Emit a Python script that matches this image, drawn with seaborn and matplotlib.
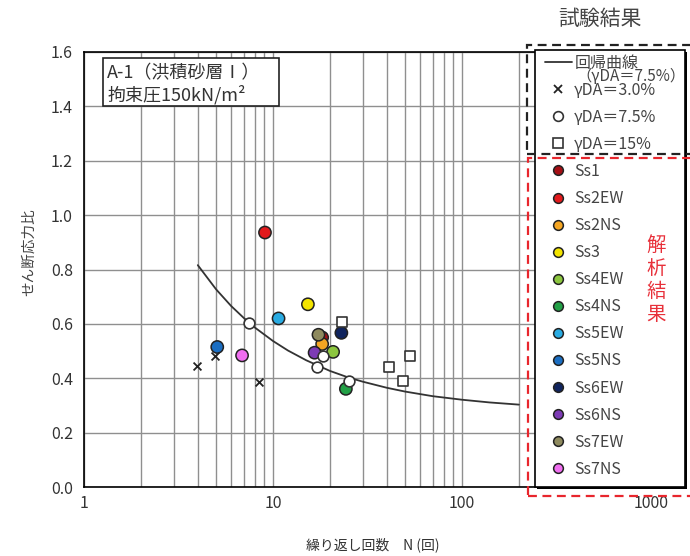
import matplotlib
matplotlib.use("Agg")
import matplotlib.pyplot as plt
import matplotlib.ticker as mticker
import seaborn as sns
import pandas as pd
from matplotlib.lines import Line2D
from matplotlib.patches import Rectangle

sns.set_theme(style="whitegrid")
plt.rcParams['font.family'] = ['Noto Sans CJK JP', 'DejaVu Sans']

W, H = 690, 556

# 試験結果 (N, せん断応力比)
test_30_n = [3.95, 4.95, 8.43]
test_30_r = [0.446, 0.483, 0.387]
test_75_n = [7.5, 17.0, 18.3, 25.3]
test_75_r = [0.605, 0.442, 0.483, 0.390]
test_15_n = [23.1, 41.2, 48.6, 53.2]
test_15_r = [0.608, 0.442, 0.391, 0.483]

# 回帰曲線 (γDA=7.5%)
curve_n = [4, 5, 6, 7, 8, 10, 12, 15, 20, 25, 30, 40, 50, 70, 100, 140, 200]
curve_r = [0.816, 0.727, 0.666, 0.622, 0.587, 0.537, 0.502, 0.466, 0.427,
           0.403, 0.387, 0.365, 0.351, 0.334, 0.321, 0.311, 0.303]

# 解析結果
cases = ['Ss1', 'Ss2EW', 'Ss2NS', 'Ss3', 'Ss4EW', 'Ss4NS',
         'Ss5EW', 'Ss5NS', 'Ss6EW', 'Ss6NS', 'Ss7EW', 'Ss7NS']
case_n = [18.2, 9.07, 18.2, 15.3, 20.8, 24.3, 10.7, 5.07, 23.0, 16.6, 17.4, 6.86]
case_r = [0.550, 0.936, 0.526, 0.672, 0.497, 0.361, 0.620, 0.515, 0.567, 0.494, 0.560, 0.484]
case_colors = ['#a50f15', '#e31a1c', '#f5a623', '#f3e400', '#8cc63f', '#22a046',
               '#29abe2', '#1b6ec2', '#10245e', '#7d3bb5', '#8e8a5e', '#f06ef0']

y_ticks = [0.0, 0.2, 0.4, 0.6, 0.8, 1.0, 1.2, 1.4, 1.6]
x_ticks = [1, 10, 100, 1000]


def px(x, y):
    return x / W, 1 - y / H


def box(x0, y0, x1, y1, **kw):
    fx, fy = px(x0, y1)
    return Rectangle((fx, fy), (x1 - x0) / W, (y1 - y0) / H,
                     transform=fig.transFigure, clip_on=False, **kw)


fig = plt.figure(figsize=(6.9, 5.56), dpi=100)
ax = fig.add_axes([84 / W, 1 - 487 / H, (651 - 84) / W, (487 - 52) / H])

grid_c = '#8f8f8f'
ax.set_xscale('log')
ax.set_xlim(1, 1000)
ax.set_ylim(0, 1.6)
ax.grid(False)
ax.grid(which='both', axis='x', color=grid_c, lw=1.0)
ax.grid(which='major', axis='y', color=grid_c, lw=1.0)

sns.lineplot(x=curve_n, y=curve_r, ax=ax, color='#333333', lw=1.3,
             sort=False, zorder=2)

sns.scatterplot(x=test_30_n, y=test_30_r, ax=ax, marker='x', color='#222222',
                s=32, linewidth=1.3, zorder=4)

df = pd.DataFrame({'case': cases, 'N': case_n, 'ratio': case_r})
sns.scatterplot(data=df, x='N', y='ratio', hue='case',
                palette=dict(zip(cases, case_colors)), s=78,
                edgecolor='#222222', linewidth=1.1, legend=False, ax=ax, zorder=3)

sns.scatterplot(x=test_75_n, y=test_75_r, ax=ax, marker='o', color='white',
                edgecolor='#333333', s=60, linewidth=1.2, zorder=4)
sns.scatterplot(x=test_15_n, y=test_15_r, ax=ax, marker='s', color='white',
                edgecolor='#333333', s=60, linewidth=1.2, zorder=4)

ax.set_xticks(x_ticks, [str(v) for v in x_ticks])
ax.xaxis.set_minor_formatter(mticker.NullFormatter())
ax.set_yticks(y_ticks, [f'{v:.1f}' for v in y_ticks])
ax.tick_params(axis='both', which='both', length=0, labelsize=11.5,
               labelcolor='#333333')
ax.tick_params(axis='y', pad=8)
ax.tick_params(axis='x', pad=6)
for sp in ax.spines.values():
    sp.set_color('black')
    sp.set_linewidth(1.2)

ax.set_xlabel('繰り返し回数　N (回)', fontsize=10, color='#333333')
ax.xaxis.set_label_coords(0.51, -0.115)
ax.set_ylabel('せん断応力比', fontsize=10.5, color='#444444')
ax.yaxis.set_label_coords(-0.085, 0.54)

# condition box
fig.add_artist(box(103, 58, 279, 106, facecolor='white', edgecolor='#222222',
                   lw=1.2, zorder=3))
fig.text(*px(107, 73), 'A-1（洪積砂層Ⅰ）', fontsize=13, color='#333333',
         va='center', zorder=4)
fig.text(*px(107, 95), '拘束圧150kN/m²', fontsize=13, color='#333333',
         va='center', zorder=4)

# legend panel
fig.add_artist(box(537, 52, 687, 489, facecolor='black', edgecolor='black',
                   lw=0, zorder=3))
fig.add_artist(box(535, 50, 685, 487, facecolor='white', edgecolor='black',
                   lw=1.2, zorder=3.5))

handles = [
    Line2D([], [], color='#333333', lw=1.3),
    Line2D([], [], marker='x', ls='none', color='#222222', markersize=6, mew=1.3),
    Line2D([], [], marker='o', ls='none', mfc='white', mec='#333333',
           markersize=7, mew=1.2),
    Line2D([], [], marker='s', ls='none', mfc='white', mec='#333333',
           markersize=7, mew=1.2),
]
labels = ['回帰曲線', 'γDA＝3.0%', 'γDA＝7.5%', 'γDA＝15%']
for name, col in zip(cases, case_colors):
    handles.append(Line2D([], [], marker='o', ls='none', mfc=col, mec='#222222',
                          markersize=7, mew=1.1))
    labels.append(name)

leg = fig.legend(handles, labels, loc='upper left', bbox_to_anchor=px(540, 50),
                 frameon=False, fontsize=11.5, labelspacing=0.63,
                 handlelength=1.7, handletextpad=0.15, borderpad=0.3,
                 borderaxespad=0)
leg.set_zorder(5)
for t in leg.get_texts():
    t.set_color('#444444')
fig.text(*px(576, 76), '（γDA＝7.5%）', fontsize=11, color='#444444',
         va='center', zorder=6)

# dashed group frames
fig.add_artist(box(527, 45, 700, 154, fill=False, edgecolor='#222222', lw=1.6,
                   ls=(0, (4, 2.5)), zorder=6))
fig.add_artist(box(528, 158, 700, 496, fill=False, edgecolor='#e8262d', lw=1.6,
                   ls=(0, (4, 2.5)), zorder=6))
fig.text(*px(600, 19), '試験結果', fontsize=15, color='#444444',
         ha='center', va='center')
fig.text(*px(656, 280), '解\n析\n結\n果', fontsize=14, color='#e8303a',
         ha='center', va='center', linespacing=1.12, zorder=6)

fig.savefig('out.png', dpi=100, facecolor='white')
